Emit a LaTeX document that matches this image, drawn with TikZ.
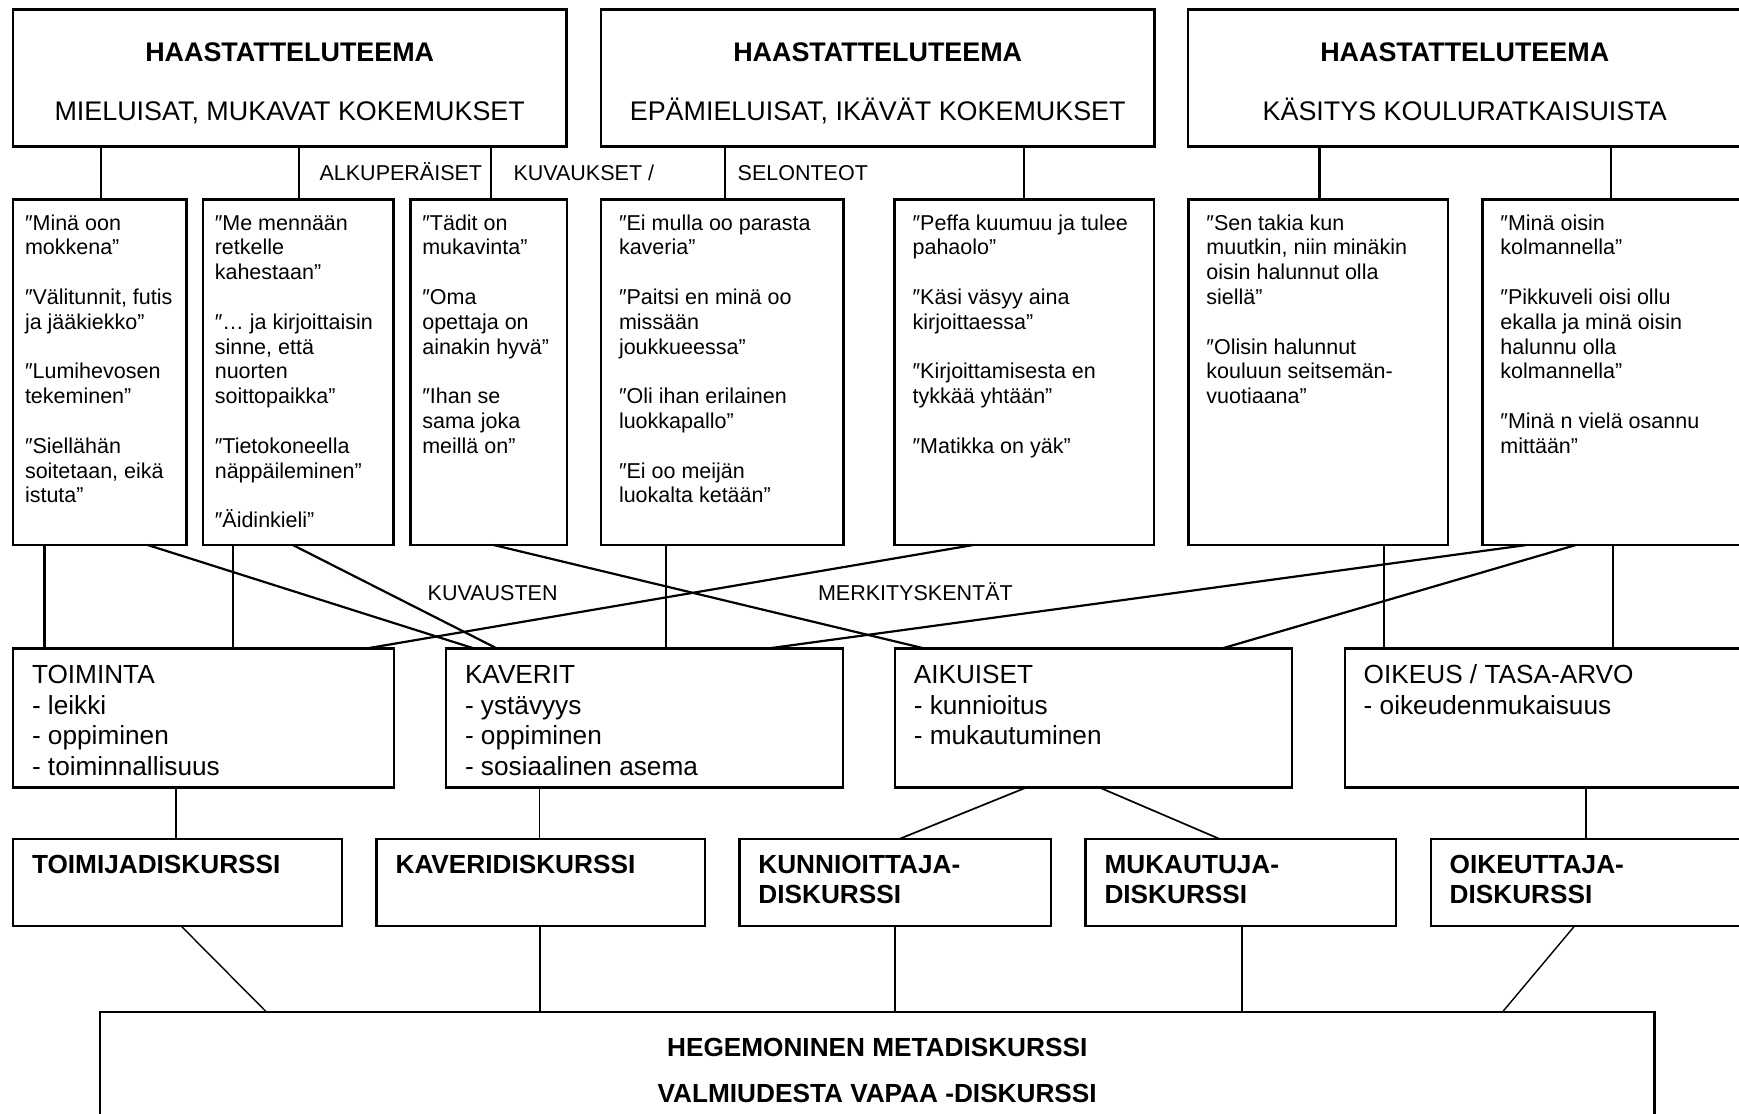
\documentclass[tikz,border=0pt]{standalone}
\usepackage{fontspec}
\setmainfont{Liberation Sans}
\usetikzlibrary{calc}
\newcommand\qgap{\\[24.8pt]}
\begin{document}
\begin{tikzpicture}[x=1pt,y=-1pt,
  box/.style={draw, line width=2.4pt, rectangle, outer sep=0pt, inner sep=0pt, anchor=north west},
  txt/.style={inner sep=0pt, outer sep=0pt, anchor=base west},
  ctxt/.style={inner sep=0pt, outer sep=0pt, anchor=base},
  big/.style={font=\fontsize{26.2}{30.4}\selectfont},
  bigb/.style={font=\fontsize{26.2}{30}\selectfont\bfseries},
  head/.style={font=\fontsize{26.9}{30}\selectfont},
  headb/.style={font=\fontsize{26.9}{30}\selectfont\bfseries},
  small/.style={font=\fontsize{21.5}{24.8}\selectfont},
  conn/.style={line width=2.2pt},
  mid/.style={line width=1.7pt},
  fine/.style={line width=1.4pt},
]
\useasboundingbox (0,0) rectangle (1739,1113);
\clip (0,0) rectangle (1739,1113);

% ---------- interview themes ----------
\node[box, minimum width=553.4pt, minimum height=137pt] (t1) at (13,9.5) {};
\node[box, minimum width=553.4pt, minimum height=137pt] (t2) at (601,9.5) {};
\node[box, minimum width=553.4pt, minimum height=137pt] (t3) at (1188,9.5) {};
\foreach \t/\s in {t1/{MIELUISAT, MUKAVAT KOKEMUKSET},
                   t2/{EPÄMIELUISAT, IKÄVÄT KOKEMUKSET},
                   t3/{KÄSITYS KOULURATKAISUISTA}}{
  \node[ctxt, headb] (\t h) at ($(\t.north)+(0,52.5)$) {HAASTATTELUTEEMA};
  \node[ctxt, head]  (\t s) at ($(\t.north)+(0,111.5)$) {\s};
}

% ---------- original descriptions ----------
\node[box, minimum width=173.6pt, minimum height=345.5pt] (q1) at (13,199.5) {};
\node[box, minimum width=190.6pt, minimum height=345.5pt] (q2) at (202.8,199.5) {};
\node[box, minimum width=156.9pt, minimum height=345.5pt] (q3) at (410.3,199.5) {};
\node[box, minimum width=242.3pt, minimum height=345.5pt] (q4) at (601,199.5) {};
\node[box, minimum width=259.4pt, minimum height=345.5pt] (q5) at (894.6,199.5) {};
\node[box, minimum width=259.6pt, minimum height=345.5pt] (q6) at (1188.4,199.5) {};
\node[box, minimum width=262pt,   minimum height=345.5pt] (q7) at (1482.4,199.5) {};

\node[txt, small] (q1t) at ($(q1.north west)+(12,30.6)$) {\parbox[t]{250pt}{\raggedright
″Minä oon\\mokkena”\qgap″Välitunnit, futis\\ja jääkiekko”\qgap″Lumihevosen\\tekeminen”\qgap″Siellähän\\soitetaan, eikä\\istuta”}};
\node[txt, small] (q2t) at ($(q2.north west)+(12,30.6)$) {\parbox[t]{250pt}{\raggedright
″Me mennään\\retkelle\\kahestaan”\qgap″… ja kirjoittaisin\\sinne, että\\nuorten\\soittopaikka”\qgap″Tietokoneella\\näppäileminen”\qgap″Äidinkieli”}};
\node[txt, small] (q3t) at ($(q3.north west)+(12,30.6)$) {\parbox[t]{250pt}{\raggedright
″Tädit on\\mukavinta”\qgap″Oma\\opettaja on\\ainakin hyvä”\qgap″Ihan se\\sama joka\\meillä on”}};
\node[txt, small] (q4t) at ($(q4.north west)+(18,30.6)$) {\parbox[t]{250pt}{\raggedright
″Ei mulla oo parasta\\kaveria”\qgap″Paitsi en minä oo\\missään\\joukkueessa”\qgap″Oli ihan erilainen\\luokkapallo”\qgap″Ei oo meijän\\luokalta ketään”}};
\node[txt, small] (q5t) at ($(q5.north west)+(18,30.6)$) {\parbox[t]{250pt}{\raggedright
″Peffa kuumuu ja tulee\\pahaolo”\qgap″Käsi väsyy aina\\kirjoittaessa”\qgap″Kirjoittamisesta en\\tykkää yhtään”\qgap″Matikka on yäk”}};
\node[txt, small] (q6t) at ($(q6.north west)+(18,30.6)$) {\parbox[t]{250pt}{\raggedright
″Sen takia kun\\muutkin, niin minäkin\\oisin halunnut olla\\siellä”\qgap″Olisin halunnut\\kouluun seitsemän-\\vuotiaana”}};
\node[txt, small] (q7t) at ($(q7.north west)+(18,30.6)$) {\parbox[t]{250pt}{\raggedright
″Minä oisin\\kolmannella”\qgap″Pikkuveli oisi ollu\\ekalla ja minä oisin\\halunnu olla\\kolmannella”\qgap″Minä n vielä osannu\\mittään”}};

% row captions
\node[txt, small] (cap1) at (319.6,180.7) {ALKUPERÄISET};
\node[txt, small] (cap2) at (513.5,180.7) {KUVAUKSET /};
\node[txt, small] (cap3) at (737.7,180.7) {SELONTEOT};
\node[txt, small] (cap4) at (427.7,600.7) {KUVAUSTEN};
\node[txt, small] (cap5) at (818,600.7) {MERKITYSKENTÄT};

% ---------- fields of meaning ----------
\node[box, minimum width=380.8pt, minimum height=139pt] (c1) at (13,648.3) {};
\node[box, minimum width=396.7pt, minimum height=139pt] (c2) at (446,648.3) {};
\node[box, minimum width=397.2pt, minimum height=139pt] (c3) at (894.8,648.3) {};
\node[box, minimum width=400pt,   minimum height=139pt] (c4) at (1344.7,648.3) {};
\node[txt, big] (c1t) at ($(c1.north west)+(19,35.5)$) {\parbox[t]{360pt}{\raggedright TOIMINTA\\- leikki\\- oppiminen\\- toiminnallisuus}};
\node[txt, big] (c2t) at ($(c2.north west)+(19,35.5)$) {\parbox[t]{360pt}{\raggedright KAVERIT\\- ystävyys\\- oppiminen\\- sosiaalinen asema}};
\node[txt, big] (c3t) at ($(c3.north west)+(19,35.5)$) {\parbox[t]{360pt}{\raggedright AIKUISET\\- kunnioitus\\- mukautuminen}};
\node[txt, big] (c4t) at ($(c4.north west)+(19,35.5)$) {\parbox[t]{360pt}{\raggedright OIKEUS / TASA-ARVO\\- oikeudenmukaisuus}};

% ---------- discourses ----------
\node[box, minimum width=329.1pt, minimum height=86.7pt] (d1) at (13,839) {};
\node[box, minimum width=328.4pt, minimum height=86.7pt] (d2) at (376.6,839) {};
\node[box, minimum width=311.6pt, minimum height=86.7pt] (d3) at (739.4,839) {};
\node[box, minimum width=310.5pt, minimum height=86.7pt] (d4) at (1085.5,839) {};
\node[box, minimum width=320pt,   minimum height=86.7pt] (d5) at (1430.7,839) {};
\node[txt, bigb] (d1t) at ($(d1.north west)+(19,34.3)$) {\parbox[t]{300pt}{\raggedright TOIMIJADISKURSSI}};
\node[txt, bigb] (d2t) at ($(d2.north west)+(19,34.3)$) {\parbox[t]{300pt}{\raggedright KAVERIDISKURSSI}};
\node[txt, bigb] (d3t) at ($(d3.north west)+(19,34.3)$) {\parbox[t]{300pt}{\raggedright KUNNIOITTAJA-\\DISKURSSI}};
\node[txt, bigb] (d4t) at ($(d4.north west)+(19,34.3)$) {\parbox[t]{300pt}{\raggedright MUKAUTUJA-\\DISKURSSI}};
\node[txt, bigb] (d5t) at ($(d5.north west)+(19,34.3)$) {\parbox[t]{300pt}{\raggedright OIKEUTTAJA-\\DISKURSSI}};

% ---------- meta-discourse ----------
\node[box, minimum width=1554.8pt, minimum height=130pt] (b) at (99.8,1011.7) {};
\node[ctxt, bigb] (bt1) at ($(b.north)+(0,44.3)$) {HEGEMONINEN METADISKURSSI};
\node[ctxt, bigb] (bt2) at ($(b.north)+(0,91)$) {VALMIUDESTA VAPAA -DISKURSSI};

% ---------- connectors: themes to descriptions ----------
\coordinate (a1) at ($(t1.south west)+(88,0)$);
\coordinate (a2) at ($(t1.south west)+(286.3,0)$);
\coordinate (a3) at ($(t1.south west)+(477.6,0)$);
\coordinate (a4) at ($(t2.south west)+(123.7,0)$);
\coordinate (a5) at ($(t2.south west)+(423,0)$);
\coordinate (a6) at ($(t3.south west)+(131.5,0)$);
\coordinate (a7) at ($(t3.south west)+(423,0)$);
\draw[conn] (a1) -- (a1 |- q1.north);
\draw[conn] (a2) -- (a2 |- q2.north);
\draw[conn] (a3) -- (a3 |- q3.north);
\draw[conn] (a4) -- (a4 |- q4.north);
\draw[conn] (a5) -- (a5 |- q5.north);
\draw[conn] (a6) -- (a6 |- q6.north);
\draw[conn] (a7) -- (a7 |- q7.north);

% ---------- connectors: descriptions to fields of meaning ----------
\coordinate (e1) at ($(q1.south west)+(31.4,0)$);
\coordinate (e2) at ($(q2.south west)+(30.2,0)$);
\coordinate (e3) at ($(q4.south west)+(65,0)$);
\coordinate (e4) at ($(q6.south west)+(195.7,0)$);
\coordinate (e5) at ($(q7.south west)+(130.2,0)$);
\draw[conn] (e1) -- (e1 |- c1.north);
\draw[conn] (e2) -- (e2 |- c1.north);
\draw[conn] (e3) -- (e3 |- c2.north);
\draw[conn] (e4) -- (e4 |- c4.north);
\draw[conn] (e5) -- (e5 |- c4.north);
\draw[conn] ($(q1.south west)+(134.7,0)$) -- ($(c2.north west)+(27.6,0)$);
\draw[conn] ($(q2.south west)+(90,0)$) -- ($(c2.north west)+(50.6,0)$);
\draw[conn] ($(q3.south west)+(83.4,0)$) -- ($(c3.north west)+(29,0)$);
\draw[conn] ($(q5.south west)+(78.6,0)$) -- ($(c1.north west)+(354.4,0)$);
\draw[conn] ($(q7.south west)+(44.2,0)$) -- ($(c2.north west)+(323.2,0)$);
\draw[conn] ($(q7.south west)+(93.5,0)$) -- ($(c3.north west)+(327.7,0)$);

% ---------- connectors: fields of meaning to discourses ----------
\coordinate (f1) at ($(c1.south west)+(163.2,0)$);
\coordinate (f2) at ($(c2.south west)+(93.6,0)$);
\coordinate (f3) at ($(c4.south west)+(241,0)$);
\draw[mid] (f1) -- (f1 |- d1.north);
\draw[mid] (f2) -- (f2 |- d2.north);
\draw[mid] (f3) -- (f3 |- d5.north);
\draw[mid] ($(c3.south west)+(132,0)$) -- ($(d3.north west)+(159.8,0)$);
\draw[mid] ($(c3.south west)+(204.2,0)$) -- ($(d4.north west)+(134.2,0)$);

% ---------- connectors: discourses to meta-discourse ----------
\coordinate (g2) at ($(d2.south west)+(163.4,0)$);
\coordinate (g3) at ($(d3.south west)+(155.6,0)$);
\coordinate (g4) at ($(d4.south west)+(156.5,0)$);
\draw[fine] (g2) -- (g2 |- b.north);
\draw[fine] (g3) -- (g3 |- b.north);
\draw[fine] (g4) -- (g4 |- b.north);
\draw[fine] ($(d1.south west)+(167.8,0)$) -- ($(b.north west)+(166.4,0)$);
\draw[fine] ($(d5.south west)+(144.1,0)$) -- ($(b.north west)+(1402.9,0)$);
\end{tikzpicture}
\end{document}
